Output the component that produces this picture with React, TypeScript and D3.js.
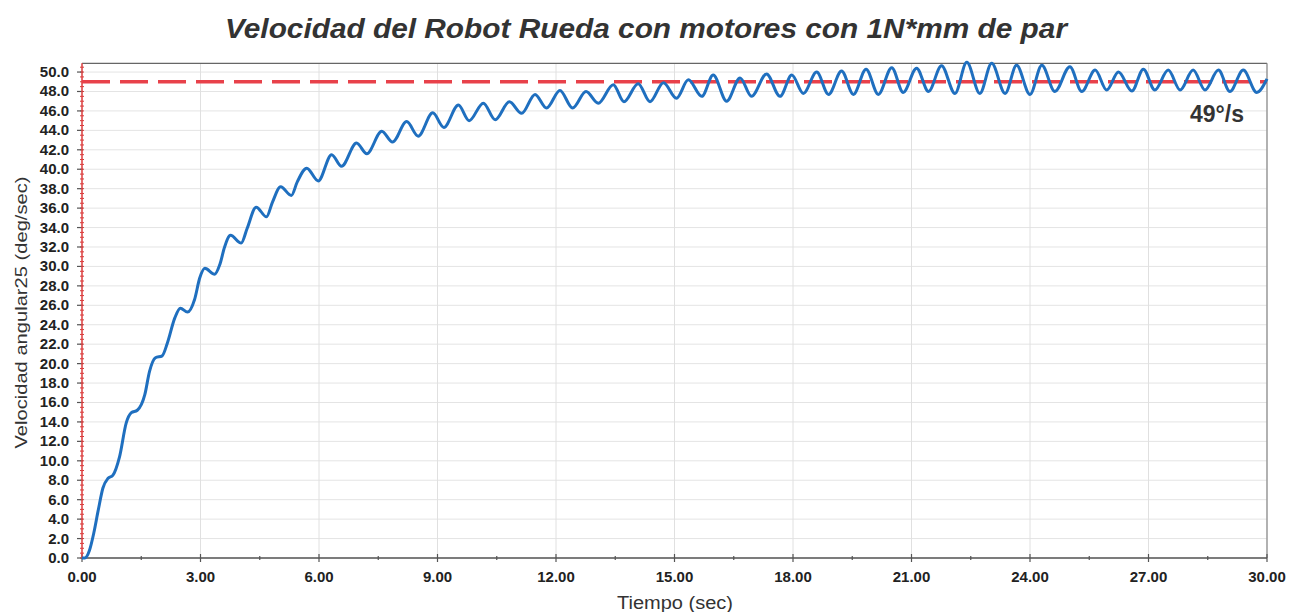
import React from "react";
import * as d3 from "d3";

// Simulated angular velocity of the wheel robot (time in s, velocity in deg/s)
const timeSec: number[] = [
  0.0, 0.07, 0.19, 0.3, 0.41, 0.53, 0.66, 0.78, 0.95, 1.12, 1.25, 1.4, 1.59, 1.71, 1.86, 2.03,
  2.16, 2.35, 2.49, 2.67, 2.85, 2.98, 3.11, 3.36, 3.49, 3.61, 3.76, 4.03, 4.18, 4.41, 4.67, 4.82,
  5.03, 5.3, 5.45, 5.69, 5.98, 6.32, 6.57, 6.95, 7.21, 7.59, 7.86, 8.22, 8.51, 8.88, 9.16, 9.53,
  9.8, 10.16, 10.46, 10.82, 11.13, 11.47, 11.76, 12.1, 12.42, 12.76, 13.07, 13.45, 13.72, 14.08,
  14.38, 14.72, 15.05, 15.35, 15.69, 15.98, 16.32, 16.66, 16.95, 17.33, 17.67, 17.97, 18.26,
  18.6, 18.9, 19.23, 19.53, 19.85, 20.16, 20.5, 20.79, 21.13, 21.43, 21.76, 22.1, 22.4, 22.73,
  23.03, 23.37, 23.66, 24.0, 24.3, 24.63, 25.01, 25.31, 25.65, 25.94, 26.24, 26.58, 26.87,
  27.16, 27.5, 27.8, 28.13, 28.43, 28.77, 29.06, 29.4, 29.74, 30.0,
];
const velocity: number[] = [
  0.0, 0.0, 0.8, 2.6, 4.9, 7.2, 8.2, 8.5, 10.4, 13.9, 14.95, 15.2, 16.8, 19.2, 20.6, 20.8,
  22.1, 24.7, 25.7, 25.3, 26.6, 28.8, 29.8, 29.2, 30.2, 32.0, 33.2, 32.4, 33.9, 36.1, 35.1, 36.6,
  38.2, 37.3, 38.7, 40.1, 38.8, 41.5, 40.3, 42.7, 41.6, 43.9, 42.8, 44.9, 43.4, 45.8, 44.3, 46.6,
  45.0, 46.8, 45.1, 46.95, 45.75, 47.7, 46.3, 48.1, 46.3, 48.0, 46.8, 48.7, 46.95, 48.8,
  46.95, 48.9, 47.3, 49.2, 47.5, 49.7, 47.0, 49.4, 47.5, 49.8, 47.5, 49.7, 47.8,
  50.0, 47.7, 50.1, 47.7, 50.3, 47.7, 50.45, 47.9, 50.4, 48.0, 50.65, 47.8, 51.0, 47.8,
  50.9, 47.8, 50.7, 47.7, 50.7, 48.0, 50.55, 48.0, 50.2, 48.15, 50.0, 48.05, 50.3,
  48.15, 50.2, 48.15, 50.2, 48.15, 50.2, 48.0, 50.2, 47.9, 49.3,
];

const referenceVelocity = 49;
const referenceLabel = "49°/s";

const xTicks: number[] = [0, 3, 6, 9, 12, 15, 18, 21, 24, 27, 30];
const yTicks: number[] = [0, 2, 4, 6, 8, 10, 12, 14, 16, 18, 20, 22, 24, 26, 28, 30, 32, 34, 36, 38, 40, 42, 44, 46, 48, 50];

const title = "Velocidad del Robot Rueda con motores con 1N*mm de par";
const xTitle = "Tiempo (sec)";
const yTitle = "Velocidad angular25 (deg/sec)";

const W = 1289;
const H = 612;
const left = 82;
const right = 1267;
const top = 63.3;
const bottom = 558;

export default function App() {
  const x = d3.scaleLinear().domain([0, 30]).range([left, right]);
  const y = d3.scaleLinear().domain([0, 50.9]).range([bottom, top]);

  const points = timeSec.map((t, i) => [t, velocity[i]] as [number, number]);
  const line = d3
    .line<[number, number]>()
    .x((d) => x(d[0]))
    .y((d) => y(d[1]))
    .curve(d3.curveMonotoneX);

  const minorY = d3.range(0, 50.75, 0.5);
  const minorX = d3.range(1.5, 30, 3);

  const font = "'Liberation Sans', Arial, sans-serif";

  return (
    <svg
      width={W}
      height={H}
      viewBox={`0 0 ${W} ${H}`}
      style={{ position: "absolute", left: 0, top: 0, background: "#fff" }}
      fontFamily={font}
    >
      <rect x={0} y={0} width={W} height={H} fill="#fff" />

      {/* title */}
      <text
        x={(225 + 1067) / 2}
        y={38}
        textAnchor="middle"
        fontSize={27}
        fontWeight="bold"
        fontStyle="italic"
        fill="#333"
        textLength={842}
        lengthAdjust="spacingAndGlyphs"
      >
        {title}
      </text>

      {/* grid */}
      {yTicks.map((v) => (
        <line key={"gy" + v} x1={left} x2={right} y1={y(v)} y2={y(v)} stroke="#e4e4e4" strokeWidth={1} />
      ))}
      {xTicks.map((v) => (
        <line key={"gx" + v} x1={x(v)} x2={x(v)} y1={top} y2={bottom} stroke="#e0e0e0" strokeWidth={1} />
      ))}

      {/* frame */}
      <line x1={left} x2={right} y1={top} y2={top} stroke="#666" strokeWidth={1.2} />
      <line x1={right} x2={right} y1={top} y2={bottom} stroke="#888" strokeWidth={1.2} />

      {/* x axis */}
      <line x1={left} x2={right} y1={bottom} y2={bottom} stroke="#555" strokeWidth={1.5} />
      {xTicks.map((v) => (
        <line key={"xt" + v} x1={x(v)} x2={x(v)} y1={bottom - 4} y2={bottom + 4} stroke="#555" strokeWidth={1.2} />
      ))}
      {minorX.map((v) => (
        <line key={"xm" + v} x1={x(v)} x2={x(v)} y1={bottom - 2} y2={bottom + 2} stroke="#555" strokeWidth={1.2} />
      ))}
      {xTicks.map((v) => (
        <text key={"xl" + v} x={x(v)} y={bottom + 24} textAnchor="middle" fontSize={15} fontWeight="bold" fill="#222">
          {v.toFixed(2)}
        </text>
      ))}

      {/* y axis */}
      {minorY.map((v) => (
        <line key={"ym" + v} x1={left - 2} x2={left + 2} y1={y(v)} y2={y(v)} stroke="#d23a3a" strokeWidth={1} />
      ))}
      {yTicks.map((v) => (
        <line key={"yt" + v} x1={left - 5} x2={left + 1} y1={y(v)} y2={y(v)} stroke="#555" strokeWidth={1.2} />
      ))}
      <line x1={left} x2={left} y1={top} y2={bottom} stroke="#e04040" strokeWidth={1.5} />
      {yTicks.map((v) => (
        <text key={"yl" + v} x={left - 13} y={y(v) + 5} textAnchor="end" fontSize={15} fontWeight="bold" fill="#222">
          {v.toFixed(1)}
        </text>
      ))}

      {/* axis titles */}
      <text
        transform={`translate(27, ${(175 + 450) / 2}) rotate(-90)`}
        textAnchor="middle"
        fontSize={17}
        fill="#333"
        textLength={272}
        lengthAdjust="spacingAndGlyphs"
      >
        {yTitle}
      </text>
      <text
        x={675}
        y={609}
        textAnchor="middle"
        fontSize={18}
        fill="#333"
        textLength={116}
        lengthAdjust="spacingAndGlyphs"
      >
        {xTitle}
      </text>

      {/* reference level */}
      <line
        x1={left}
        x2={right}
        y1={y(referenceVelocity)}
        y2={y(referenceVelocity)}
        stroke="#e8414a"
        strokeWidth={3.5}
        strokeDasharray="28 10"
      />

      {/* velocity trace */}
      <path d={line(points) ?? ""} fill="none" stroke="#1f6fbf" strokeWidth={3} strokeLinejoin="round" />

      <text x={1217} y={122} textAnchor="middle" fontSize={23} fontWeight="bold" fill="#333">
        {referenceLabel}
      </text>
    </svg>
  );
}
